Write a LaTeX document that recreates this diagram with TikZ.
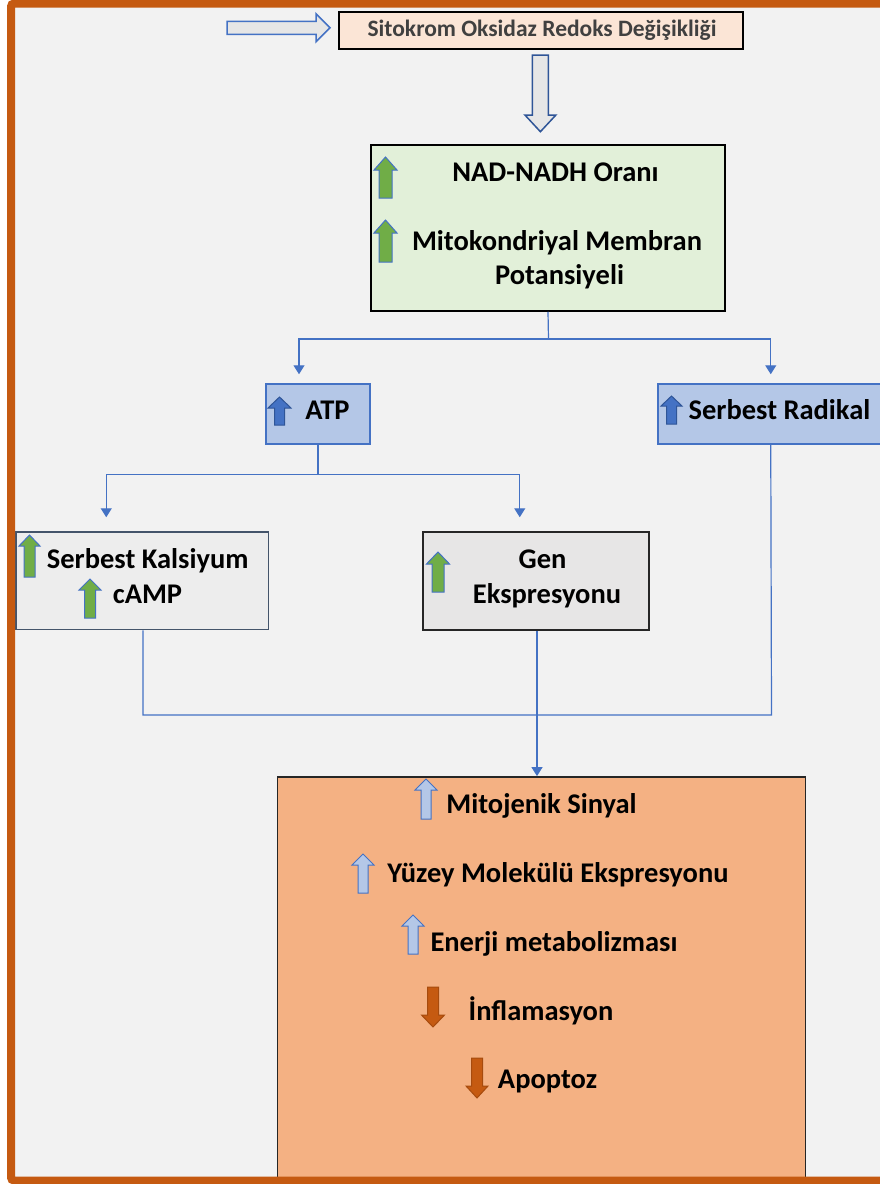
\documentclass[tikz,border=0pt]{standalone}
\usepackage{fontspec}
\setmainfont{Carlito}
\usetikzlibrary{arrows.meta}
\definecolor{bg}{HTML}{F2F2F2}
\definecolor{frame}{HTML}{C55A11}
\definecolor{peach}{HTML}{FBE5D6}
\definecolor{lgreen}{HTML}{E2F0D9}
\definecolor{lblue}{HTML}{B4C7E7}
\definecolor{blu}{HTML}{4472C4}
\definecolor{dblu}{HTML}{2F5597}
\definecolor{grn}{HTML}{70AD47}
\definecolor{gray1}{HTML}{EDEDED}
\definecolor{gray2}{HTML}{E7E6E6}
\definecolor{slate}{HTML}{44546A}
\definecolor{dark}{HTML}{262626}
\definecolor{salmon}{HTML}{F4B183}
\definecolor{rust}{HTML}{C55A11}
\definecolor{rustd}{HTML}{A64B0E}
\definecolor{hollow}{HTML}{E6E6E6}
\definecolor{txtgray}{HTML}{404040}
% block arrows: style, centre, start, tip, shaft width, head width, head length
\newcommand{\myUpArr}[7]{\draw[#1] ({#2-#5/2},#4) -- ({#2-#5/2},{#3+#7}) -- ({#2-#6/2},{#3+#7}) -- (#2,#3) -- ({#2+#6/2},{#3+#7}) -- ({#2+#5/2},{#3+#7}) -- ({#2+#5/2},#4) -- cycle;}
\newcommand{\myDnArr}[7]{\draw[#1] ({#2-#5/2},#3) -- ({#2-#5/2},{#4-#7}) -- ({#2-#6/2},{#4-#7}) -- (#2,#4) -- ({#2+#6/2},{#4-#7}) -- ({#2+#5/2},{#4-#7}) -- ({#2+#5/2},#3) -- cycle;}
\newcommand{\myRtArr}[7]{\draw[#1] (#3,{#2-#5/2}) -- ({#4-#7},{#2-#5/2}) -- ({#4-#7},{#2-#6/2}) -- (#4,#2) -- ({#4-#7},{#2+#6/2}) -- ({#4-#7},{#2+#5/2}) -- (#3,{#2+#5/2}) -- cycle;}
\tikzset{
  box/.style={rectangle, inner sep=0pt, line width=1.5pt},
  blk/.style={line width=1pt, line join=miter},
  grnarr/.style={blk, fill=grn, draw=blu},
  bluarr/.style={blk, fill=blu, draw=dblu},
  ltarr/.style={blk, fill=lblue, draw=blu},
  rusarr/.style={blk, fill=rust, draw=rustd},
  big/.style={inner sep=0pt, anchor=base, font=\fontsize{28.5}{34}\selectfont\bfseries},
  line/.style={draw=blu, line width=1.2pt},
  conn/.style={line, -{Triangle[length=9pt,width=11pt]}},
}
\begin{document}
\begin{tikzpicture}[x=1pt,y=-1pt]
\useasboundingbox (0,0) rectangle (880,1184);
\fill[white] (0,0) rectangle (880,1184);
\fill[bg] (15,7) rectangle (880,1177);

% boxes
\node[box, draw=black, fill=peach, minimum width=404pt, minimum height=37pt] (top) at (541,30.3) {};
\node[box, draw=black, fill=lgreen, minimum width=354pt, minimum height=166pt] (nad) at (548,228) {};
\node[box, draw=blu, fill=lblue, minimum width=104pt, minimum height=60pt] (atp) at (318,414) {};
\node[box, draw=blu, fill=lblue, minimum width=250pt, minimum height=60pt] (rad) at (783,414) {};
\node[box, draw=slate, fill=gray1, minimum width=252.5pt, minimum height=97.7pt] (kal) at (142.25,580.85) {};
\node[box, draw=dark, fill=gray2, minimum width=226pt, minimum height=98pt] (gen) at (536,581) {};
\node[box, draw=dark, fill=salmon, minimum width=528pt, minimum height=403pt] (org) at (541.5,978.35) {};

% big hollow arrows
\myRtArr{blk, fill=hollow, draw=blu, line width=1.5pt}{27.8}{227}{330}{13}{28}{14}
\myDnArr{blk, fill=hollow, draw=dblu, line width=1.5pt}{540.4}{55}{131.7}{16}{31}{16.7}

% small arrows
\myUpArr{grnarr}{385.5}{157}{198}{13}{23}{13}
\myUpArr{grnarr}{385.5}{220}{262}{13}{23}{13}
\myUpArr{bluarr}{279.5}{397}{425}{10}{23}{11}
\myUpArr{bluarr}{671.5}{396}{424}{10}{21}{10}
\myUpArr{grnarr}{29.5}{535}{577}{11}{21}{11}
\myUpArr{grnarr}{90}{579}{618}{11}{22}{11}
\myUpArr{grnarr}{438}{552}{592}{12}{23}{12}
\myUpArr{ltarr}{426}{779}{819}{10}{22}{11}
\myUpArr{ltarr}{363}{854}{893}{10}{22}{11}
\myUpArr{ltarr}{413}{915}{954}{10}{22}{11}
\myDnArr{rusarr}{433}{987}{1027}{11}{23}{12}
\myDnArr{rusarr}{477}{1058}{1098}{11}{22}{12}

% texts
\node[big, font=\fontsize{23.5}{28}\selectfont\bfseries, text=txtgray] (ttop) at (542,36.7) {Sitokrom Oksidaz Redoks Değişikliği};
\node[big] (t1) at (555.5,181) {NAD-NADH Oranı};
\node[big] (t2) at (557,250) {Mitokondriyal Membran};
\node[big] (t3) at (559.5,284) {Potansiyeli};
\node[big] (tatp) at (327.5,419) {ATP};
\node[big] (trad) at (779.5,419) {Serbest Radikal};
\node[big] (tkal1) at (147.7,568) {Serbest Kalsiyum};
\node[big] (tkal2) at (147.5,603) {cAMP};
\node[big] (tgen1) at (542.5,568) {Gen};
\node[big] (tgen2) at (547,603) {Ekspresyonu};
\node[big] (o1) at (541.5,813) {Mitojenik Sinyal};
\node[big] (o2) at (558,882) {Yüzey Molekülü Ekspresyonu};
\node[big] (o3) at (554,951) {Enerji metabolizması};
\node[big] (o4) at (541,1020) {İnflamasyon};
\node[big] (o5) at (547.5,1088) {Apoptoz};

% connectors
\coordinate (j1) at (548.5,339);
\draw[line] (nad.south) -- (j1);
\draw[conn] (j1) -| ([xshift=-19pt,yshift=9pt]atp.north);
\draw[conn] (j1) -| ([xshift=113.5pt,yshift=9pt]rad.north west);
\coordinate (j2) at (318,474.7);
\draw[line] (atp.south) -- (j2);
\draw[conn] (j2) -| ([xshift=91pt,yshift=14pt]kal.north west);
\draw[conn] (j2) -| ([xshift=97.5pt,yshift=14pt]gen.north west);
\coordinate (j3) at (771.5,715);
\draw[line] ([xshift=0.75pt]kal.south) |- (j3) -- ([xshift=113.5pt]rad.south west);
\draw[conn] ([xshift=1pt]gen.south) -- ([xshift=1pt]gen.south |- org.north);

% frame
\draw[frame, line width=8pt, rounded corners=3pt] (11,3.5) rectangle (900,1180.5);
\end{tikzpicture}
\end{document}
